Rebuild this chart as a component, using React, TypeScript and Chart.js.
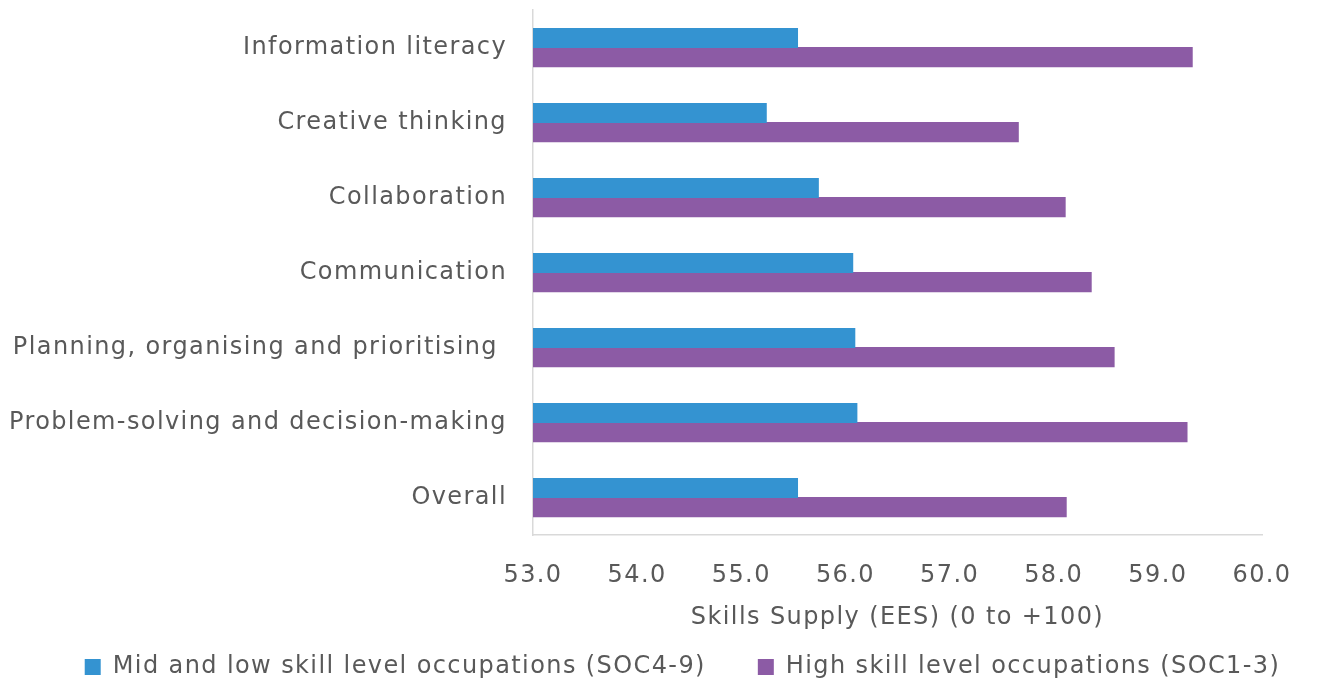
import React, { useEffect, useRef } from "react";
import { Chart, registerables } from "chart.js";

Chart.register(...registerables);

const categories = [
  "Information literacy",
  "Creative thinking",
  "Collaboration",
  "Communication",
  "Planning, organising and prioritising ",
  "Problem-solving and decision-making",
  "Overall",
];

const seriesNames = [
  "Mid and low skill level occupations (SOC4-9)",
  "High skill level occupations (SOC1-3)",
];

const midLowValues = [55.54, 55.24, 55.74, 56.07, 56.09, 56.11, 55.54];
const highValues = [59.33, 57.66, 58.11, 58.36, 58.58, 59.28, 58.12];

const xMin = 53;
const xMax = 60;
const xStep = 1;
const axisTitle = "Skills Supply (EES) (0 to +100)";

const FONT = "'DejaVu Sans', sans-serif";
const TEXT = "#595959";
const LETTER_SPACING = "1.4px";

const spacingPlugin = {
  id: "letterSpacing",
  beforeUpdate(chart: any) {
    chart.ctx.letterSpacing = LETTER_SPACING;
  },
  beforeDraw(chart: any) {
    chart.ctx.letterSpacing = LETTER_SPACING;
  },
};

const legendShiftPlugin = {
  id: "legendShift",
  afterLayout(chart: any) {
    const lg = chart.legend;
    if (lg) {
      lg.left += 22;
      lg.right += 22;
    }
  },
};

export default function App() {
  const ref = useRef<HTMLCanvasElement | null>(null);

  useEffect(() => {
    if (!ref.current) return;
    const chart = new Chart(ref.current, {
      type: "bar",
      data: {
        labels: categories,
        datasets: [
          {
            label: seriesNames[0],
            data: midLowValues,
            backgroundColor: "#3493D1",
            borderWidth: 0,
            inflateAmount: 0.5,
            categoryPercentage: 0.51,
            barPercentage: 1,
            xAxisID: "x",
            yAxisID: "y",
          },
          {
            label: seriesNames[1],
            data: highValues,
            backgroundColor: "#8C5BA5",
            borderWidth: 0,
            inflateAmount: 0.5,
            categoryPercentage: 0.51,
            barPercentage: 1,
            xAxisID: "x",
            yAxisID: "y",
          },
        ],
      },
      plugins: [spacingPlugin, legendShiftPlugin],
      options: {
        indexAxis: "y",
        animation: false,
        responsive: false,
        maintainAspectRatio: false,
        layout: { padding: { left: 0, right: 0, top: 10, bottom: 0 } },
        scales: {
          x: {
            min: xMin,
            max: xMax,
            grid: { display: false, drawTicks: false },
            border: { display: true, color: "#d9d9d9", width: 1.5 },
            ticks: {
              stepSize: xStep,
              padding: 26,
              color: TEXT,
              font: { family: FONT, size: 24 },
              callback: (v: any) => Number(v).toFixed(1),
            },
            title: {
              display: true,
              text: axisTitle,
              color: TEXT,
              font: { family: FONT, size: 24 },
              padding: { top: 0, bottom: -29.4 },
            },
            afterFit: (s: any) => {
              s.height = 68;
            },
          },
          y: {
            position: "left",
            grid: { display: false, drawTicks: false },
            border: { display: true, color: "#d9d9d9", width: 1.5 },
            ticks: {
              padding: 26,
              color: TEXT,
              font: { family: FONT, size: 24 },
            },
            afterFit: (s: any) => {
              s.width = 533;
              s.paddingTop = 0;
              s.paddingBottom = 0;
            },
          },
          yRight: {
            type: "linear",
            position: "right",
            display: true,
            grid: { display: false, drawTicks: false },
            border: { display: false },
            ticks: { display: false },
            afterFit: (s: any) => {
              s.width = 59;
              s.paddingTop = 0;
              s.paddingBottom = 0;
            },
          },
        },
        plugins: {
          legend: {
            position: "bottom",
            maxHeight: 81,
            labels: {
              boxWidth: 16,
              boxHeight: 16,
              padding: 52,
              color: TEXT,
              font: { family: FONT, size: 24 },
            },
          },
          tooltip: { enabled: false },
        },
      } as any,
    });
    return () => chart.destroy();
  }, []);

  return (
    <div style={{ position: "absolute", left: 0, top: 0, width: 1321, height: 684 }}>
      <canvas ref={ref} width={1321} height={684} style={{ width: 1321, height: 684 }} />
    </div>
  );
}
